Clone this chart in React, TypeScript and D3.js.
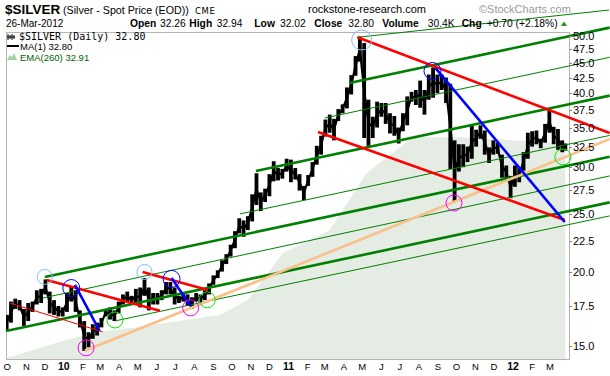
import React, { useEffect, useRef } from "react";
import * as d3 from "d3";

// ---------- weekly price ranges (week starting Monday) ----------
const weekStart: string[] = [
  "2009-09-28","2009-10-05","2009-10-12","2009-10-19","2009-10-26","2009-11-02","2009-11-09","2009-11-16","2009-11-23","2009-11-30",
  "2009-12-07","2009-12-14","2009-12-21","2009-12-28","2010-01-04","2010-01-11","2010-01-18","2010-01-25","2010-02-01","2010-02-08",
  "2010-02-15","2010-02-22","2010-03-01","2010-03-08","2010-03-15","2010-03-22","2010-03-29","2010-04-05","2010-04-12","2010-04-19",
  "2010-04-26","2010-05-03","2010-05-10","2010-05-17","2010-05-24","2010-05-31","2010-06-07","2010-06-14","2010-06-21","2010-06-28",
  "2010-07-05","2010-07-12","2010-07-19","2010-07-26","2010-08-02","2010-08-09","2010-08-16","2010-08-23","2010-08-30","2010-09-06",
  "2010-09-13","2010-09-20","2010-09-27","2010-10-04","2010-10-11","2010-10-18","2010-10-25","2010-11-01","2010-11-08","2010-11-15",
  "2010-11-22","2010-11-29","2010-12-06","2010-12-13","2010-12-20","2010-12-27","2011-01-03","2011-01-10","2011-01-17","2011-01-24",
  "2011-01-31","2011-02-07","2011-02-14","2011-02-21","2011-02-28","2011-03-07","2011-03-14","2011-03-21","2011-03-28","2011-04-04",
  "2011-04-11","2011-04-18","2011-04-25","2011-05-02","2011-05-09","2011-05-16","2011-05-23","2011-05-30","2011-06-06","2011-06-13",
  "2011-06-20","2011-06-27","2011-07-04","2011-07-11","2011-07-18","2011-07-25","2011-08-01","2011-08-08","2011-08-15","2011-08-22",
  "2011-08-29","2011-09-05","2011-09-12","2011-09-19","2011-09-26","2011-10-03","2011-10-10","2011-10-17","2011-10-24","2011-10-31",
  "2011-11-07","2011-11-14","2011-11-21","2011-11-28","2011-12-05","2011-12-12","2011-12-19","2011-12-26","2012-01-02","2012-01-09",
  "2012-01-16","2012-01-23","2012-01-30","2012-02-06","2012-02-13","2012-02-20","2012-02-27","2012-03-05","2012-03-12","2012-03-19",
  "2012-03-26",
];
const weekHigh: number[] = [
  16.9,17.8,18.0,17.9,17.3,17.7,17.8,18.6,18.7,19.4,
  18.5,17.9,17.5,17.4,18.4,18.9,18.6,17.2,16.5,15.8,
  16.3,16.4,16.7,17.3,17.4,17.2,17.8,18.3,18.5,18.2,
  18.7,18.8,19.5,18.8,18.4,18.4,18.6,19.2,19.2,18.8,
  18.2,18.4,18.3,18.1,18.4,18.3,18.6,19.1,19.7,20.1,
  20.9,21.4,22.2,23.4,24.6,24.4,24.8,27.0,29.3,27.2,
  27.6,29.2,30.7,29.9,29.8,31.0,30.9,29.9,29.2,27.9,
  29.1,30.6,32.6,33.9,36.1,36.8,36.2,37.6,38.3,40.9,
  42.9,46.2,49.8,48.6,39.0,36.5,38.7,38.5,38.5,37.0,
  36.6,35.0,37.0,39.5,40.2,40.5,42.0,40.5,43.0,44.2,
  43.0,43.0,42.5,41.5,33.3,32.8,32.8,32.5,35.3,34.7,
  35.3,34.6,32.4,33.3,33.0,31.5,30.2,29.0,30.2,30.0,
  31.8,34.3,34.5,34.6,33.5,35.5,37.5,35.1,34.8,33.3,
  32.9,
];
const weekLow: number[] = [
  15.9,16.4,17.3,17.2,16.2,16.5,17.1,17.6,17.7,18.3,
  17.0,16.9,16.8,16.8,17.1,17.8,17.1,16.1,14.7,14.9,
  15.4,15.6,16.1,16.8,16.6,16.5,17.0,17.6,17.8,17.6,
  17.7,17.4,18.2,17.2,17.6,17.6,17.9,18.3,18.3,17.6,
  17.7,17.8,17.5,17.3,17.8,17.7,17.9,18.3,19.0,19.5,
  20.0,20.6,21.2,21.9,23.2,22.9,23.5,24.3,25.9,25.3,
  26.2,26.8,28.4,28.5,28.7,29.5,28.3,28.6,27.4,26.4,
  27.9,28.9,30.3,31.5,33.8,34.3,33.3,35.9,37.0,37.7,
  39.8,42.8,45.2,33.6,32.6,33.6,35.0,36.5,35.5,34.2,
  33.9,32.9,34.5,35.3,38.7,38.2,37.8,36.8,39.0,39.3,
  40.0,40.5,38.5,29.8,26.2,29.5,30.0,30.6,31.0,32.5,
  33.5,31.5,30.5,31.5,31.6,28.8,28.7,26.6,27.8,28.3,
  29.6,31.0,32.5,32.8,32.3,33.0,34.3,32.8,32.1,31.8,
  32.0,
];
const lastSessionDate = "2012-03-26";

// ---------- EMA(260) ----------
const emaDates: string[] = [
  "2009-09-29","2009-10-16","2009-11-28","2010-01-06","2010-02-28","2010-04-23","2010-06-17","2010-08-10","2010-09-11","2010-10-27",
  "2010-12-23","2011-02-05","2011-03-09","2011-05-08","2011-07-22","2011-10-06","2011-12-15","2012-03-06","2012-03-26",
];
const emaValues: number[] = [
  14.3,14.47,14.92,15.35,15.83,16.08,16.4,16.7,16.9,17.9,
  21.5,22.6,23.5,29.3,33.7,33.7,33.4,33.0,32.91,
];

// ---------- axes ----------
const priceTicks: number[] = [15, 17.5, 20, 22.5, 25, 27.5, 30, 32.5, 35, 37.5, 40, 42.5, 45, 47.5, 50];
const monthTickDates: string[] = [
  "2009-10-01","2009-11-01","2009-12-01","2010-01-01","2010-02-01","2010-03-01","2010-04-01","2010-05-01","2010-06-01","2010-07-01",
  "2010-08-01","2010-09-01","2010-10-01","2010-11-01","2010-12-01","2011-01-01","2011-02-01","2011-03-01","2011-04-01","2011-05-01",
  "2011-06-01","2011-07-01","2011-08-01","2011-09-01","2011-10-01","2011-11-01","2011-12-01","2012-01-01","2012-02-01","2012-03-01",
];
const monthTickLabels: string[] = [
  "O","N","D","10","F","M","A","M","J","J","A","S","O","N","D","11","F","M","A","M","J","J","A","S","O","N","D","12","F","M",
];

// ---------- annotation lines: [fromDate, fromPrice, toDate, toPrice] ----------
type Seg = [string, number, string, number];
const greenThickLines: Seg[] = [
  ["2009-09-29", 15.88, "2012-06-06", 26.17],
  ["2009-12-01", 19.59, "2012-06-06", 31.25],
  ["2010-11-09", 29.56, "2012-06-06", 39.62],
  ["2011-04-10", 41.6, "2012-06-06", 51.6],
];
const greenThinLines: Seg[] = [
  ["2009-11-28", 18.05, "2012-06-06", 29.0],
  ["2010-03-25", 16.51, "2012-06-06", 24.83],
  ["2010-10-14", 25.02, "2012-06-06", 33.94],
  ["2011-03-01", 36.32, "2012-06-06", 45.98],
  ["2011-04-23", 49.7, "2012-06-05", 55.25],
];
const redThickLines: Seg[] = [
  ["2009-12-04", 19.36, "2010-06-06", 17.17],
  ["2010-05-09", 19.97, "2010-08-23", 18.62],
  ["2011-04-23", 49.7, "2012-06-06", 34.27],
  ["2011-02-18", 34.4, "2012-03-25", 24.44],
];
const redThinLines: Seg[] = [["2009-10-05", 17.7, "2010-03-05", 15.82]];
const blueThickLines: Seg[] = [
  ["2010-01-19", 18.99, "2010-02-28", 15.88],
  ["2010-06-25", 19.51, "2010-07-26", 17.5],
  ["2011-08-28", 44.1, "2012-03-25", 24.25],
];
const orangeLines: Seg[] = [["2010-02-04", 14.7, "2012-06-06", 33.47]];

// ---------- marker circles ----------
const circleDates: string[] = [
  "2009-12-01","2010-05-12","2011-04-30",
  "2010-01-13","2010-06-25","2011-08-23",
  "2010-02-06","2010-07-26","2011-09-27",
  "2010-03-25","2010-08-22","2012-03-22",
];
const circlePrices: number[] = [19.59, 19.97, 49.17, 18.76, 19.44, 43.6, 14.87, 17.37, 26.11, 16.57, 17.92, 31.22];
const circleKinds: string[] = [
  "top","top","top","pivot","pivot","pivot","low","low","low","support","support","support",
];

// styles
const circleStyle: Record<string, { color: string; r: number }> = {
  top: { color: "#7fbfef", r: 7.5 },
  pivot: { color: "#0000ff", r: 8.5 },
  low: { color: "#ff00ff", r: 8 },
  support: { color: "#00ee00", r: 8 },
};

const SANS = "'Liberation Sans', Arial, sans-serif";

export default function App() {
  const ref = useRef<SVGSVGElement>(null);

  useEffect(() => {
    document.body.style.margin = "0";
    const parse = d3.timeParse("%Y-%m-%d");
    const P = (s: string) => parse(s) as Date;
    const L = { left: 6, top: 32, right: 569, bottom: 359 };

    const x = d3
      .scaleTime()
      .domain([new Date(2009, 8, 28, 22), new Date(2012, 2, 31, 22)])
      .range([L.left, L.right]);
    const y = d3.scaleLog().domain([14.24, 50.73]).range([L.bottom, L.top]);

    const svg = d3.select(ref.current);
    svg.selectAll("*").remove();

    svg.append("rect").attr("width", 610).attr("height", 376).attr("fill", "#ffffff");

    const defs = svg.append("defs");
    defs
      .append("clipPath")
      .attr("id", "plotclip")
      .append("rect")
      .attr("x", L.left)
      .attr("y", L.top)
      .attr("width", L.right - L.left)
      .attr("height", L.bottom - L.top);

    // EMA area
    const ema = emaDates.map((d, i) => ({ d: P(d), v: emaValues[i] }));
    const area = d3
      .area<{ d: Date; v: number }>()
      .x((p) => x(p.d))
      .y0(L.bottom)
      .y1((p) => y(p.v));
    svg
      .append("path")
      .attr("clip-path", "url(#plotclip)")
      .attr("d", area(ema) as string)
      .attr("fill", "#e5ece3");

    // frame
    svg
      .append("rect")
      .attr("x", L.left + 0.5)
      .attr("y", L.top + 0.5)
      .attr("width", L.right - L.left)
      .attr("height", L.bottom - L.top)
      .attr("fill", "none")
      .attr("stroke", "#b4b4b4");

    // price bars
    const lastD = P(lastSessionDate);
    const bars = weekStart.map((d, i) => {
      let c = d3.timeDay.offset(P(d), 2);
      if (c > lastD) c = lastD;
      return { c, hi: weekHigh[i], lo: weekLow[i] };
    });
    const pg = svg.append("g").attr("clip-path", "url(#plotclip)");
    pg.selectAll("rect.bar")
      .data(bars)
      .enter()
      .append("rect")
      .attr("class", "bar")
      .attr("x", (b) => x(b.c) - 1.9)
      .attr("width", 3.8)
      .attr("y", (b) => y(b.hi))
      .attr("height", (b) => Math.max(1.5, y(b.lo) - y(b.hi)))
      .attr("fill", "#000");
    const mid = d3
      .line<{ c: Date; hi: number; lo: number }>()
      .x((b) => x(b.c))
      .y((b) => y(Math.sqrt(b.hi * b.lo)));
    pg.append("path").attr("d", mid(bars) as string).attr("fill", "none").attr("stroke", "#000").attr("stroke-width", 2.2);

    // annotation lines
    const drawSegs = (segs: Seg[], color: string, w: number) => {
      svg
        .append("g")
        .selectAll("line")
        .data(segs)
        .enter()
        .append("line")
        .attr("x1", (s) => x(P(s[0])))
        .attr("y1", (s) => y(s[1]))
        .attr("x2", (s) => x(P(s[2])))
        .attr("y2", (s) => y(s[3]))
        .attr("stroke", color)
        .attr("stroke-width", w);
    };
    drawSegs(greenThinLines, "#008000", 1);
    drawSegs(greenThickLines, "#008000", 2.6);
    drawSegs(orangeLines, "#f9c08a", 2.6);
    drawSegs(redThinLines, "#ff0000", 1);
    drawSegs(redThickLines, "#ff0000", 2.6);
    drawSegs(blueThickLines, "#0000ff", 2.6);

    // circles
    svg
      .append("g")
      .selectAll("circle")
      .data(circleDates.map((d, i) => ({ d: P(d), v: circlePrices[i], k: circleKinds[i] })))
      .enter()
      .append("circle")
      .attr("cx", (c) => x(c.d))
      .attr("cy", (c) => y(c.v))
      .attr("r", (c) => (c.k === "top" && c.v > 40 ? 10 : circleStyle[c.k].r))
      .attr("fill", "none")
      .attr("stroke", (c) => circleStyle[c.k].color)
      .attr("stroke-width", 1);

    // right axis
    const ya = svg.append("g");
    ya.selectAll("line")
      .data(priceTicks)
      .enter()
      .append("line")
      .attr("x1", L.right)
      .attr("x2", L.right + 3)
      .attr("y1", (v) => Math.round(y(v)) + 0.5)
      .attr("y2", (v) => Math.round(y(v)) + 0.5)
      .attr("stroke", "#888");
    ya.selectAll("text")
      .data(priceTicks)
      .enter()
      .append("text")
      .attr("x", L.right + 4)
      .attr("y", (v) => y(v) + 4)
      .attr("font-family", SANS)
      .attr("font-size", 11)
      .attr("fill", "#000")
      .text((v) => v.toFixed(1));

    // bottom axis
    svg
      .append("g")
      .selectAll("text")
      .data(monthTickDates.map((d, i) => ({ d: P(d), t: monthTickLabels[i] })))
      .enter()
      .append("text")
      .attr("x", (m) => x(m.d))
      .attr("y", 370)
      .attr("text-anchor", "middle")
      .attr("font-family", SANS)
      .attr("font-size", (m) => (m.t.length > 1 ? 10.5 : 9.5))
      .attr("font-weight", (m) => (m.t.length > 1 ? "bold" : "normal"))
      .attr("fill", "#000")
      .text((m) => m.t);

    // header
    const txt = (s: string, tx: number, ty: number, size: number, opts: any = {}) =>
      svg
        .append("text")
        .attr("x", tx)
        .attr("y", ty)
        .attr("font-family", opts.family || SANS)
        .attr("font-size", size)
        .attr("font-weight", opts.bold ? "bold" : "normal")
        .attr("fill", opts.fill || "#000")
        .attr("letter-spacing", opts.ls || 0)
        .text(s);
    txt("$SILVER", 5, 14, 13.5, { bold: true });
    txt("(Silver - Spot Price (EOD))", 63, 14, 10.7);
    txt("CME", 195, 14, 8.5, { family: "'DejaVu Sans', sans-serif", ls: 0.6 });
    txt("rockstone-research.com", 308, 13, 11);
    txt("\u00A9StockCharts.com", 479, 13, 11, { fill: "#9a9a9a" });
    txt("26-Mar-2012", 6, 27, 10);
    const hdr: [string, number, boolean][] = [
      ["Open", 130, true], ["32.26", 160, false], ["High", 189.3, true], ["32.94", 216.7, false],
      ["Low", 254.3, true], ["32.02", 280, false], ["Close", 314.3, true], ["32.80", 348.3, false],
      ["Volume", 382.3, true], ["30.4K", 427.7, false], ["Chg", 461.7, true], ["+0.70 (+2.18%)", 486.7, false],
    ];
    hdr.forEach(([s, hx, b]) => txt(s, hx, 27, 10.3, { bold: b }));
    svg.append("path").attr("d", "M561,26 L564,21.5 L567,26 Z").attr("fill", "#2e8b2e");

    // legend
    const lg = svg.append("g");
    lg.append("path")
      .attr("d", "M8,34 V40 M10,35 V39 M12,34 V40 M14,35 V39 M7,37 H15")
      .attr("stroke", "#000")
      .attr("stroke-width", 1);
    txt("$SILVER (Daily) 32.80", 19, 39.5, 10, { family: "'DejaVu Sans Mono', monospace" });
    lg.append("line").attr("x1", 7).attr("x2", 19).attr("y1", 46).attr("y2", 46).attr("stroke", "#000").attr("stroke-width", 2);
    txt("MA(1) 32.80", 20, 50, 9.5);
    lg.append("path").attr("d", "M7,60 L10,55 L12,57 L14,53 L17,60 Z").attr("fill", "#9fd39f");
    txt("EMA(260) 32.91", 20, 60.5, 9.5, { fill: "#006400" });
  }, []);

  return <svg ref={ref} width={610} height={376} style={{ position: "absolute", left: 0, top: 0, display: "block" }} />;
}
